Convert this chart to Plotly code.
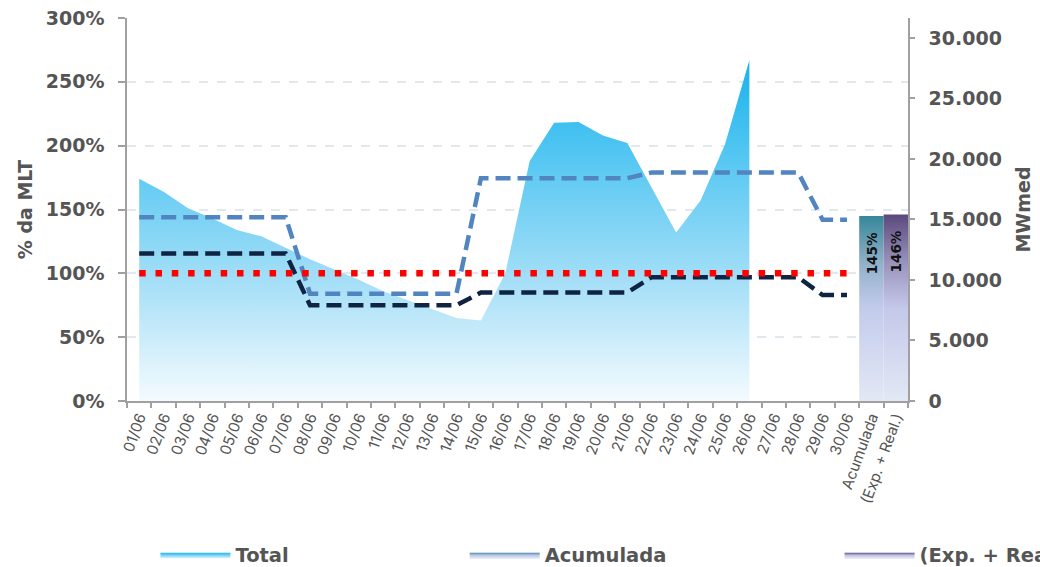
import plotly.graph_objects as go

# ---------------- data ----------------
days = ["01/06", "02/06", "03/06", "04/06", "05/06", "06/06", "07/06", "08/06", "09/06", "10/06",
        "11/06", "12/06", "13/06", "14/06", "15/06", "16/06", "17/06", "18/06", "19/06", "20/06",
        "21/06", "22/06", "23/06", "24/06", "25/06", "26/06", "27/06", "28/06", "29/06", "30/06"]
bar_names = ["Acumulada", "(Exp. + Real.)"]
categories = days + bar_names

# Total (% da MLT), verified days only (01/06 - 26/06)
total_pct = [174, 164, 151, 143, 134, 129, 120, 111, 103, 95,
             86, 79, 72, 65, 63, 100, 188, 218, 218.5, 208,
             202, 167, 132, 157, 201, 267]

# forecast revisions (dashed lines)
prev_blue = [144, 144, 144, 144, 144, 144, 144, 84, 84, 84,
             84, 84, 84, 84, 174.5, 174.5, 174.5, 174.5, 174.5, 174.5,
             174.5, 179, 179, 179, 179, 179, 179, 179, 142, 142]
prev_navy = [115.5, 115.5, 115.5, 115.5, 115.5, 115.5, 115.5, 75, 75, 75,
             75, 75, 75, 75, 85, 85, 85, 85, 85, 85,
             85, 97, 97, 97, 97, 97, 97, 97, 83, 83]
mlt_ref = [100, 100, 100, 100, 100, 100, 100, 100, 100, 100,
           100, 100, 100, 100, 100, 100, 100, 100, 100, 100,
           100, 100, 100, 100, 100, 100, 100, 100, 100, 100]

bar_values = [145, 146]
bar_labels = ["145%", "146%"]

left_ticks = [0, 50, 100, 150, 200, 250, 300]
left_ticktext = ["0%", "50%", "100%", "150%", "200%", "250%", "300%"]
right_ticks = [0, 5000, 10000, 15000, 20000, 25000, 30000]
right_range_max = 31650

# ---------------- styles ----------------
GRAY_TXT = "#555555"
AXIS_COL = "#a0a0a0"
BOLD_FONT = dict(family="DejaVu Sans", size=19, color=GRAY_TXT, weight="bold")

day_pos = list(range(len(days)))
fig = go.Figure()

# Total area with vertical gradient
fig.add_trace(go.Scatter(
    x=day_pos[:len(total_pct)], y=total_pct, name="Total",
    mode="lines", line=dict(width=0, color="#1ab3ed"),
    fill="tozeroy",
    fillgradient=dict(type="vertical", start=0, stop=max(total_pct),
                      colorscale=[[0, "#f4fbfe"], [0.35, "#a5dff7"],
                                  [0.7, "#58c8f2"], [1, "#18b2ed"]]),
    legend="legend", hoverinfo="skip"))

# accumulated bars (drawn as gradient-filled columns)
bar_scales = [
    [[0, "#e3e8f5"], [0.5, "#c3cbec"], [0.75, "#8fb0c9"], [1, "#36869a"]],
    [[0, "#e3e8f5"], [0.5, "#c4c8ea"], [0.75, "#9891ba"], [1, "#5b497d"]],
]
legends = ["legend2", "legend3"]
for name, val, cs, lg in zip(bar_names, bar_values, bar_scales, legends):
    pos = categories.index(name)
    fig.add_trace(go.Scatter(
        x=[pos - 0.5, pos + 0.5], y=[val, val], name=name,
        mode="lines", line=dict(width=0, color=cs[-1][1]),
        fill="tozeroy",
        fillgradient=dict(type="vertical", start=0, stop=val, colorscale=cs),
        legend=lg, hoverinfo="skip"))

# forecast lines
fig.add_trace(go.Scatter(x=day_pos, y=prev_blue, mode="lines", showlegend=False,
                         line=dict(color="#5284c0", width=4.5, dash="15px,7px")))
fig.add_trace(go.Scatter(x=day_pos, y=prev_navy, mode="lines", showlegend=False,
                         line=dict(color="#0f2442", width=4.5, dash="15px,7px")))
fig.add_trace(go.Scatter(x=day_pos, y=mlt_ref, mode="lines", showlegend=False,
                         line=dict(color="#ff0000", width=6.5, dash="6.5px,9.8px")))

# empty trace so that the secondary (MWmed) axis is drawn
fig.add_trace(go.Scatter(x=[], y=[], yaxis="y2", showlegend=False, hoverinfo="skip"))

# bar value labels
for name, val, lab in zip(bar_names, bar_values, bar_labels):
    fig.add_annotation(x=categories.index(name), y=val, text=lab, showarrow=False,
                       textangle=-90, xanchor="center", yanchor="top", yshift=-14,
                       font=dict(family="DejaVu Sans", size=13.5, color="#111111", weight="bold"))

legend_common = dict(orientation="h", yanchor="middle", y=-0.402, xanchor="left",
                     itemwidth=70, bgcolor="rgba(0,0,0,0)",
                     font=dict(family="DejaVu Sans", size=19.5, color=GRAY_TXT, weight="bold"))

fig.update_layout(
    width=1040, height=567,
    margin=dict(l=127, r=132, t=18, b=166, autoexpand=False),
    paper_bgcolor="white", plot_bgcolor="white",
    separators=",.",
    xaxis=dict(range=[-0.5, len(categories) - 0.5], tickmode="array",
               tickvals=list(range(len(categories))), ticktext=categories,
               tickangle=-70, ticks="", showgrid=False, zeroline=False,
               showline=True, linecolor=AXIS_COL, linewidth=1.5,
               tickfont=dict(family="Inter", size=15, color=GRAY_TXT),
               minor=dict(tickmode="array",
                          tickvals=[i - 0.5 for i in range(len(categories) + 1)],
                          ticks="outside", ticklen=5, tickcolor=AXIS_COL, tickwidth=1.5,
                          showgrid=False)),
    yaxis=dict(range=[0, 300], tickmode="array", tickvals=left_ticks, ticktext=left_ticktext,
               ticks="outside", ticklen=7, tickcolor=AXIS_COL, tickwidth=1.5,
               showline=True, linecolor=AXIS_COL, linewidth=1.5,
               showgrid=True, gridcolor="#e2e9ee", griddash="dash", gridwidth=1.5,
               zeroline=False, tickfont=BOLD_FONT, ticklabelstandoff=10,
               title=dict(text="% da MLT", font=BOLD_FONT, standoff=8)),
    yaxis2=dict(overlaying="y", side="right", anchor="x", range=[0, right_range_max],
                tickmode="array", tickvals=right_ticks, tickformat=",d",
                ticks="outside", ticklen=5, tickcolor=AXIS_COL, tickwidth=1.5,
                showline=True, linecolor=AXIS_COL, linewidth=1.5,
                showgrid=False, zeroline=False, tickfont=BOLD_FONT, ticklabelstandoff=10,
                title=dict(text="MWmed", font=BOLD_FONT, standoff=16)),
    legend=dict(x=0.0364, **legend_common),
    legend2=dict(x=0.4324, **legend_common),
    legend3=dict(x=0.9124, **legend_common),
)

fig.write_html("out.html", config={"displayModeBar": False},
               post_script="document.body.style.margin='0px';")
